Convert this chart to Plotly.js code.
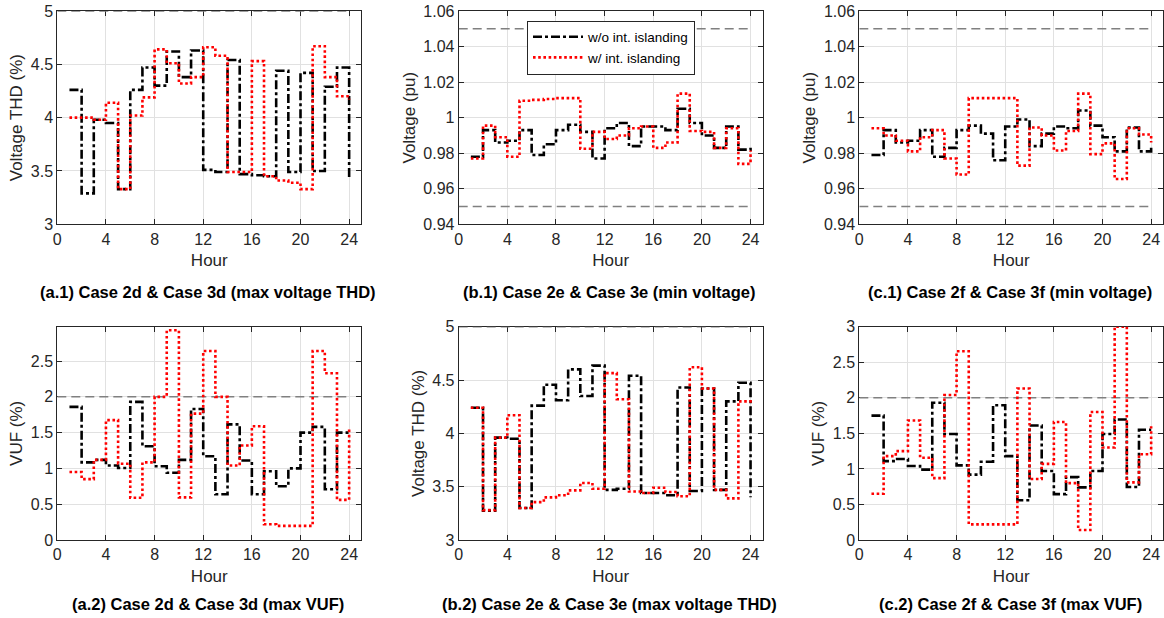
<!DOCTYPE html>
<html>
<head>
<meta charset="utf-8">
<script src="https://cdn.plot.ly/plotly-3.0.1.min.js"></script>
<style>
html,body{margin:0;padding:0;background:#fff;}
#chart{width:1164px;height:618px;}
</style>
</head>
<body>
<div id="chart"></div>
<script>
// ---------- DATA ----------
const hours = [1,2,3,4,5,6,7,8,9,10,11,12,13,14,15,16,17,18,19,20,21,22,23,24];
const seriesNames = ["w/o int. islanding", "w/ int. islanding"];

// (a.1) Case 2d & Case 3d (max voltage THD)
const a1Without = [4.26,3.29,3.98,3.95,3.33,4.26,4.47,4.30,4.62,4.38,4.63,3.51,3.49,4.54,3.47,3.46,3.45,4.44,3.49,4.42,3.50,4.29,4.47,3.43];
const a1With    = [4.00,4.00,3.98,4.14,3.33,4.02,4.19,4.64,4.51,4.32,4.38,4.66,4.58,3.49,3.49,4.53,3.45,3.41,3.39,3.33,4.67,4.38,4.20,4.17];

// (b.1) Case 2e & Case 3e (min voltage)
const b1Without = [0.978,0.993,0.986,0.987,0.993,0.979,0.985,0.993,0.996,0.992,0.977,0.994,0.997,0.984,0.995,0.995,0.993,1.005,0.997,0.990,0.983,0.995,0.982,0.983];
const b1With    = [0.977,0.9955,0.989,0.978,1.0095,1.010,1.0105,1.011,1.011,0.9825,0.992,0.988,0.990,0.994,0.995,0.983,0.986,1.0135,0.9925,0.992,0.983,0.994,0.974,0.9815];

// (c.1) Case 2f & Case 3f (min voltage)
const c1Without = [0.979,0.993,0.986,0.987,0.993,0.978,0.983,0.993,0.9955,0.991,0.976,0.995,0.999,0.984,0.991,0.995,0.994,1.004,0.9955,0.989,0.981,0.9945,0.981,0.983];
const c1With    = [0.994,0.990,0.987,0.981,0.989,0.993,0.977,0.968,1.011,1.011,1.011,1.011,0.973,0.9945,0.990,0.9815,0.9925,1.0135,0.9795,0.9855,0.9655,0.994,0.9905,0.986];

// (a.2) Case 2d & Case 3d (max VUF)
const a2Without = [1.86,1.085,1.12,1.04,1.005,1.93,1.31,1.03,0.94,1.12,1.83,1.17,0.64,1.615,1.11,0.64,0.96,0.75,1.00,1.50,1.58,0.71,1.50,1.48];
const a2With    = [0.95,0.85,1.12,1.675,1.065,0.59,1.085,2.00,2.93,0.595,1.765,2.64,2.00,1.04,1.32,1.59,0.22,0.197,0.197,0.197,2.64,2.33,0.56,1.57];

// (b.2) Case 2e & Case 3e (max voltage THD)
const b2Without = [4.24,3.275,3.96,3.95,3.30,4.26,4.455,4.31,4.60,4.35,4.635,3.47,3.48,4.54,3.44,3.44,3.42,4.43,3.46,4.42,3.47,4.30,4.475,3.40];
const b2With    = [4.24,3.28,3.96,4.17,3.30,3.355,3.40,3.42,3.465,3.535,3.48,4.565,4.32,3.455,3.44,3.49,3.45,3.41,4.62,4.42,3.47,3.39,4.30,4.32];

// (c.2) Case 2f & Case 3f (max VUF)
const c2Without = [1.75,1.11,1.14,1.04,0.99,1.93,1.49,1.05,0.92,1.10,1.895,1.18,0.56,1.61,0.97,0.645,0.885,0.74,0.97,1.49,1.695,0.745,1.55,1.55];
const c2With    = [0.65,1.18,1.25,1.68,1.157,0.87,2.04,2.655,0.22,0.22,0.22,0.22,2.13,0.857,1.07,1.66,0.80,0.14,1.80,1.30,3.00,0.81,1.205,1.60];

// limits (dashed reference lines)
const limitX = [0, 24];
const thdLimit = [5];
const voltageLimits = [1.05, 0.95];
const vufLimit = [2];

// tick labels
const hourTicks = [0,4,8,12,16,20,24];
const hourTickText = ["0","4","8","12","16","20","24"];
const thdTicks = [3,3.5,4,4.5,5];
const thdTickText = ["3","3.5","4","4.5","5"];
const voltTicks = [0.94,0.96,0.98,1,1.02,1.04,1.06];
const voltTickText = ["0.94","0.96","0.98","1","1.02","1.04","1.06"];
const vufTicksA = [0,0.5,1,1.5,2,2.5];
const vufTickTextA = ["0","0.5","1","1.5","2","2.5"];
const vufTicksC = [0,0.5,1,1.5,2,2.5,3];
const vufTickTextC = ["0","0.5","1","1.5","2","2.5","3"];

const captions = [
  "(a.1) Case 2d & Case 3d (max voltage THD)",
  "(b.1) Case 2e & Case 3e (min voltage)",
  "(c.1) Case 2f & Case 3f (min voltage)",
  "(a.2) Case 2d & Case 3d (max VUF)",
  "(b.2) Case 2e & Case 3e (max voltage THD)",
  "(c.2) Case 2f & Case 3f (max VUF)"
];
const yTitles = ["Voltage THD (%)","Voltage (pu)","Voltage (pu)","VUF (%)","Voltage THD (%)","VUF (%)"];

// ---------- LAYOUT GEOMETRY ----------
const W = 1164, H = 618;
const colLeft = [57.3, 458.7, 859.3];
const panelW = 304;
const rowTop = [11, 326.7];
const panelH = 213.3;

const FONT = '"Liberation Sans", Arial, Helvetica, sans-serif';
const TXT = '#262626';

const panels = [
  {w:a1Without, r:a1With, lim:thdLimit, range:[3,5], tv:thdTicks, tt:thdTickText},
  {w:b1Without, r:b1With, lim:voltageLimits, range:[0.94,1.06], tv:voltTicks, tt:voltTickText},
  {w:c1Without, r:c1With, lim:voltageLimits, range:[0.94,1.06], tv:voltTicks, tt:voltTickText},
  {w:a2Without, r:a2With, lim:vufLimit, range:[0,2.98], tv:vufTicksA, tt:vufTickTextA},
  {w:b2Without, r:b2With, lim:thdLimit, range:[3,5], tv:thdTicks, tt:thdTickText},
  {w:c2Without, r:c2With, lim:vufLimit, range:[0,3], tv:vufTicksC, tt:vufTickTextC}
];

const traces = [];
const layout = {
  width: W, height: H,
  margin: {l:0, r:0, t:0, b:0},
  paper_bgcolor: '#fff', plot_bgcolor: '#fff',
  font: {family: FONT, color: TXT, size: 16},
  showlegend: true,
  legend: {
    x: 527/W, y: 1 - 20.5/H, xanchor: 'left', yanchor: 'top',
    bgcolor: '#fff', bordercolor: '#262626', borderwidth: 1,
    font: {family: FONT, size: 13.5, color: '#000'},
    tracegroupgap: 0, itemwidth: 50
  },
  annotations: [],
  shapes: []
};

panels.forEach((p, i) => {
  const col = i % 3, row = Math.floor(i / 3);
  const n = i + 1;
  const xa = 'x' + (n === 1 ? '' : n), ya = 'y' + (n === 1 ? '' : n);
  const xKey = 'xaxis' + (n === 1 ? '' : n), yKey = 'yaxis' + (n === 1 ? '' : n);
  const x0 = colLeft[col], y0 = rowTop[row];

  layout[xKey] = {
    domain: [x0 / W, (x0 + panelW) / W],
    anchor: ya,
    range: [0, 25],
    tickvals: hourTicks, ticktext: hourTickText,
    ticks: 'inside', ticklen: 5, tickcolor: '#262626',
    showline: true, linecolor: '#262626', linewidth: 1, mirror: 'ticks',
    showgrid: true, gridcolor: '#e1e1e1', gridwidth: 1,
    zeroline: false, layer: 'below traces',
    tickfont: {family: FONT, size: 16, color: TXT},
    title: {text: 'Hour', font: {family: FONT, size: 17, color: TXT}, standoff: 7}
  };
  layout[yKey] = {
    domain: [1 - (y0 + panelH) / H, 1 - y0 / H],
    anchor: xa,
    range: p.range,
    tickvals: p.tv, ticktext: p.tt,
    ticks: 'inside', ticklen: 5, tickcolor: '#262626',
    showline: true, linecolor: '#262626', linewidth: 1, mirror: 'ticks',
    showgrid: true, gridcolor: '#e1e1e1', gridwidth: 1,
    zeroline: false, layer: 'below traces',
    tickfont: {family: FONT, size: 16, color: TXT},
    title: {text: yTitles[i], font: {family: FONT, size: 17, color: TXT}, standoff: 3}
  };

  // dashed limit lines
  p.lim.forEach(v => {
    traces.push({
      x: limitX, y: [v, v], xaxis: xa, yaxis: ya, mode: 'lines',
      line: {color: '#808080', width: 1.5, dash: '9px,5px'},
      showlegend: false, hoverinfo: 'skip'
    });
  });

  traces.push({
    x: hours, y: p.w, xaxis: xa, yaxis: ya, mode: 'lines',
    name: seriesNames[0], legendgroup: 'wo',
    line: {shape: 'hv', color: '#000', width: 2.6, dash: '9px,3px,3px,3px'},
    showlegend: i === 1
  });
  traces.push({
    x: hours, y: p.r, xaxis: xa, yaxis: ya, mode: 'lines',
    name: seriesNames[1], legendgroup: 'w',
    line: {shape: 'hv', color: '#ff0000', width: 2.6, dash: '2.6px,2.6px'},
    showlegend: i === 1
  });

  layout.annotations.push({
    xref: 'paper', yref: 'paper',
    x: (x0 + panelW / 2 - 1) / W,
    y: 1 - (row === 0 ? 292 : 604) / H,
    xanchor: 'center', yanchor: 'middle',
    text: '<b>' + captions[i].replace(/&/g, '&amp;') + '</b>',
    showarrow: false,
    font: {family: FONT, size: 16.5, color: '#000'}
  });
});

Plotly.newPlot('chart', traces, layout, {displayModeBar: false, staticPlot: true});
</script>
</body>
</html>
